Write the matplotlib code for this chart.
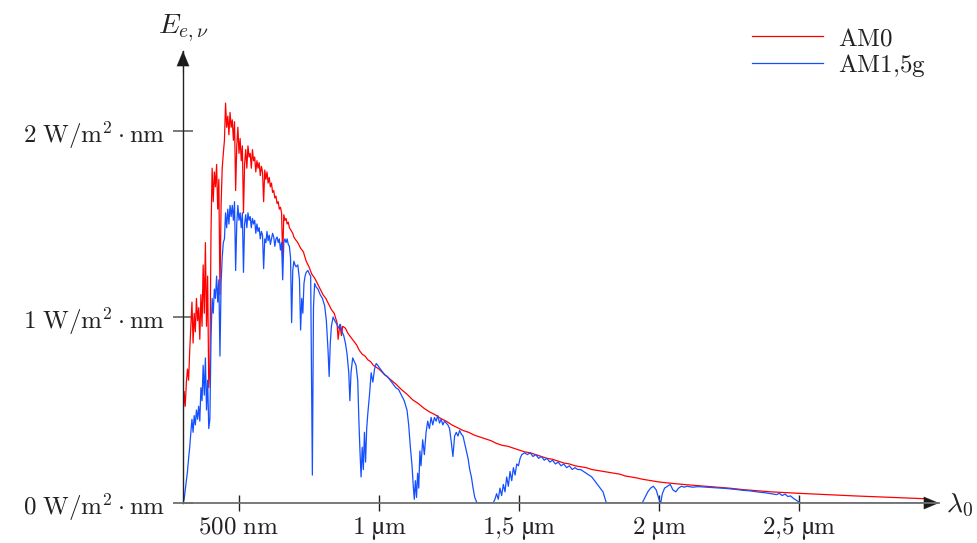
import numpy as np
import matplotlib
matplotlib.use("Agg")
import matplotlib.pyplot as plt

plt.rcParams['mathtext.fontset'] = 'cm'
plt.rcParams['font.family'] = ['STIXGeneral', 'DejaVu Serif']

# ---------------- data (wavelength in nm, irradiance in W/(m^2 nm)) ----------------
am0_wl = [300, 304, 308, 312, 316, 320, 324, 328, 332, 336, 340, 344, 348, 352, 356, 360, 364, 368, 372, 376,
          380, 384, 388, 392, 396, 400, 404, 408, 412, 416, 420, 424, 428, 432, 436, 440, 444, 448, 452, 456,
          460, 464, 468, 472, 476, 480, 484, 488, 492, 496, 500, 504, 508, 512, 516, 520, 524, 528, 532, 536,
          540, 544, 548, 552, 556, 560, 564, 568, 572, 576, 580, 584, 588, 592, 596, 600, 604, 608, 612, 616,
          620, 624, 628, 632, 636, 640, 644, 648, 652, 656, 660, 664, 668, 672, 676, 680, 684, 688, 692, 696,
          700, 710, 720, 730, 740, 750, 760, 770, 780, 790, 800, 810, 820, 830, 840, 850, 854, 860, 866, 870,
          880, 890, 900, 910, 920, 930, 940, 950, 960, 970, 980, 990, 1000,
          1020, 1040, 1060, 1080, 1100, 1120, 1140, 1160, 1180, 1200, 1220, 1240, 1260, 1280, 1300, 1320, 1340,
          1360, 1380, 1400, 1420, 1440, 1460, 1480, 1500, 1520, 1540, 1560, 1580, 1600, 1620, 1640, 1660, 1680,
          1700, 1720, 1740, 1760, 1780, 1800, 1820, 1840, 1860, 1880, 1900, 1920, 1940, 1960, 1980, 2000,
          2050, 2100, 2150, 2200, 2250, 2300, 2350, 2400, 2450, 2500, 2600, 2700, 2800, 2900, 2950]
am0_val = [0.45, 0.60, 0.52, 0.65, 0.72, 0.66, 0.82, 0.95, 1.08, 0.86, 1.02, 0.92, 1.10, 0.98, 1.05, 0.88, 1.12, 0.95, 1.28, 1.02,
           1.40, 0.95, 1.22, 0.62, 0.72, 1.45, 1.80, 1.62, 1.78, 1.70, 1.82, 1.58, 1.74, 1.12, 1.60, 1.80, 1.88, 1.95, 2.15, 2.02,
           2.08, 1.98, 2.10, 2.02, 2.06, 1.95, 2.05, 1.68, 1.92, 2.02, 1.88, 1.96, 1.84, 1.92, 1.56, 1.82, 1.90, 1.80, 1.92, 1.86,
           1.88, 1.80, 1.90, 1.84, 1.86, 1.78, 1.84, 1.80, 1.83, 1.76, 1.81, 1.78, 1.62, 1.79, 1.74, 1.78, 1.72, 1.75, 1.70, 1.72,
           1.67, 1.68, 1.64, 1.65, 1.61, 1.62, 1.58, 1.59, 1.56, 1.32, 1.55, 1.52, 1.53, 1.50, 1.51, 1.48, 1.47, 1.46, 1.45, 1.43,
           1.42, 1.40, 1.37, 1.35, 1.30, 1.27, 1.23, 1.21, 1.18, 1.15, 1.12, 1.10, 1.07, 1.04, 1.02, 0.97, 0.88, 0.96, 0.90, 0.95,
           0.94, 0.91, 0.89, 0.87, 0.85, 0.82, 0.80, 0.79, 0.77, 0.76, 0.74, 0.73, 0.72,
           0.69, 0.665, 0.64, 0.61, 0.585, 0.555, 0.535, 0.51, 0.49, 0.475, 0.455, 0.44, 0.42, 0.405, 0.39, 0.38, 0.365,
           0.355, 0.345, 0.335, 0.32, 0.31, 0.305, 0.295, 0.285, 0.275, 0.27, 0.26, 0.25, 0.24, 0.235, 0.225, 0.215, 0.21,
           0.20, 0.195, 0.19, 0.18, 0.175, 0.17, 0.165, 0.16, 0.155, 0.145, 0.14, 0.135, 0.128, 0.123, 0.118, 0.113,
           0.105, 0.098, 0.092, 0.086, 0.08, 0.072, 0.066, 0.06, 0.056, 0.052, 0.045, 0.038, 0.032, 0.026, 0.023]

am15_wl = [300, 304, 308, 312, 316, 320, 324, 328, 332, 336, 340, 344, 348, 352, 356, 360, 364, 368, 372, 376,
           380, 384, 388, 392, 396, 400, 404, 408, 412, 416, 420, 424, 428, 432, 436, 440, 444, 448, 452, 456,
           460, 464, 468, 472, 476, 480, 484, 488, 492, 496, 500, 504, 508, 512, 516, 520, 524, 528, 532, 536,
           540, 544, 548, 552, 556, 560, 564, 568, 572, 576, 580, 584, 588, 592, 596, 600, 604, 608, 612, 616,
           620, 624, 628, 632, 636, 640, 644, 648, 652, 656, 660, 664, 668, 672, 676, 680, 684, 688, 692, 696,
           700, 704, 710, 716, 720, 724, 728, 732, 736, 740, 746, 752, 756, 760, 762, 764, 766, 770, 776, 782,
           790, 798, 806, 812, 818, 822, 826, 830, 836, 842, 850, 856, 862, 868, 874, 880, 886, 892, 896, 900,
           906, 912, 918, 924, 928, 932, 936, 940, 944, 948, 952, 956, 960, 966, 972, 978, 984, 990, 996, 1000,
           1010, 1020, 1030, 1040, 1050, 1060, 1070, 1080, 1090, 1100, 1106, 1112, 1118, 1122, 1126, 1130, 1134, 1138,
           1142, 1146, 1150, 1156, 1162, 1168, 1174, 1180, 1186, 1192, 1198, 1204, 1210, 1216, 1222, 1228, 1234, 1240,
           1246, 1252, 1258, 1264, 1270, 1276, 1282, 1288, 1294, 1300, 1306, 1312, 1318, 1324, 1330, 1336, 1342, 1350,
           1400, 1408, 1414, 1420, 1426, 1432, 1438, 1444, 1450, 1456, 1462, 1468, 1474, 1480, 1486, 1492, 1498, 1504,
           1510, 1520, 1530, 1540, 1550, 1560, 1570, 1580, 1590, 1600, 1610, 1620, 1630, 1640, 1650, 1660, 1670, 1680,
           1690, 1700, 1710, 1720, 1730, 1740, 1750, 1760, 1770, 1780, 1790, 1800, 1806, 1812, 1940, 1950, 1960, 1970,
           1980, 1990, 2000, 2006, 2012, 2020, 2030, 2040, 2050, 2060, 2070, 2080, 2090, 2100, 2120, 2140, 2160, 2180,
           2200, 2220, 2240, 2260, 2280, 2300, 2320, 2340, 2360, 2380, 2400, 2420, 2430, 2440, 2450, 2460, 2470, 2480,
           2490, 2500, 2510, 2950]
am15_val = [0.0, 0.02, 0.07, 0.12, 0.17, 0.24, 0.30, 0.38, 0.45, 0.38, 0.47, 0.42, 0.50, 0.45, 0.52, 0.44, 0.62, 0.55, 0.74, 0.58,
            0.78, 0.50, 0.66, 0.40, 0.45, 0.88, 1.10, 1.02, 1.15, 1.10, 1.22, 1.08, 1.20, 0.79, 1.18, 1.32, 1.40, 1.42, 1.56, 1.48,
            1.58, 1.50, 1.60, 1.54, 1.60, 1.52, 1.62, 1.25, 1.50, 1.60, 1.52, 1.56, 1.48, 1.56, 1.24, 1.50, 1.55, 1.48, 1.56, 1.52,
            1.54, 1.48, 1.53, 1.50, 1.52, 1.45, 1.50, 1.46, 1.48, 1.42, 1.46, 1.44, 1.26, 1.42, 1.40, 1.46, 1.41, 1.44, 1.39, 1.42,
            1.45, 1.43, 1.38, 1.42, 1.43, 1.40, 1.42, 1.36, 1.40, 1.20, 1.40, 1.42, 1.40, 1.42, 1.39, 1.38, 1.32, 0.97, 1.25, 1.30,
            1.28, 1.27, 1.28, 1.20, 0.93, 1.10, 1.02, 1.18, 1.22, 1.24, 1.25, 1.23, 1.22, 0.50, 0.15, 0.60, 1.05, 1.18, 1.16, 1.15,
            1.12, 1.10, 1.06, 0.98, 0.82, 0.68, 0.86, 0.95, 1.00, 0.98, 0.96, 0.94, 0.96, 0.92, 0.90, 0.86, 0.80, 0.70, 0.55, 0.70,
            0.78, 0.76, 0.74, 0.66, 0.45, 0.28, 0.14, 0.30, 0.18, 0.38, 0.22, 0.40, 0.48, 0.58, 0.70, 0.65, 0.72, 0.75, 0.74, 0.73,
            0.71, 0.69, 0.68, 0.66, 0.64, 0.62, 0.61, 0.58, 0.55, 0.50, 0.42, 0.30, 0.20, 0.10, 0.02, 0.12, 0.03, 0.16,
            0.08, 0.28, 0.20, 0.34, 0.26, 0.38, 0.44, 0.40, 0.46, 0.42, 0.46, 0.44, 0.47, 0.43, 0.45, 0.42, 0.44, 0.43,
            0.42, 0.40, 0.33, 0.25, 0.36, 0.38, 0.36, 0.39, 0.37, 0.36, 0.32, 0.28, 0.24, 0.18, 0.14, 0.08, 0.03, 0.0,
            0.0, 0.0, 0.02, 0.05, 0.02, 0.08, 0.04, 0.10, 0.06, 0.14, 0.09, 0.17, 0.12, 0.19, 0.15, 0.21, 0.20, 0.24,
            0.26, 0.27, 0.26, 0.27, 0.25, 0.26, 0.24, 0.25, 0.23, 0.24, 0.22, 0.23, 0.21, 0.22, 0.20, 0.21, 0.19, 0.20,
            0.18, 0.19, 0.18, 0.18, 0.17, 0.16, 0.15, 0.14, 0.12, 0.10, 0.08, 0.06, 0.03, 0.0, 0.0, 0.03, 0.06, 0.08,
            0.09, 0.07, 0.02, 0.0, 0.05, 0.08, 0.09, 0.10, 0.07, 0.06, 0.08, 0.09, 0.085, 0.09, 0.085, 0.088, 0.086, 0.084,
            0.082, 0.080, 0.078, 0.075, 0.072, 0.068, 0.066, 0.062, 0.058, 0.055, 0.050, 0.045, 0.052, 0.040, 0.048, 0.035, 0.038, 0.025,
            0.015, 0.005, 0.0, 0.0]

x_ticks = [500, 1000, 1500, 2000, 2500]
x_labels = [r'$500\ \mathrm{nm}$', r'$1\ $µ$\mathrm{m}$', r'$1{,}5\ $µ$\mathrm{m}$',
            r'$2\ $µ$\mathrm{m}$', r'$2{,}5\ $µ$\mathrm{m}$']
y_ticks = [0, 1, 2]
y_labels = [r'$%d\ \mathrm{W/m^2}\cdot\mathrm{nm}$' % v for v in y_ticks]
series_labels = [r'$\mathrm{AM0}$', r'$\mathrm{AM1{,}5g}$']

# ---------------- figure ----------------
W, H = 978, 543
fig = plt.figure(figsize=(W / 100, H / 100), dpi=100)
x0, y0, x1, y1 = 183, 503, 939, 51
ax = fig.add_axes([x0 / W, (H - y0) / H, (x1 - x0) / W, (y0 - y1) / H])
ax.set_xlim(300, 3000)
ax.set_ylim(0, (y0 - y1) / 186.0)

ax.plot(am0_wl, am0_val, color='#ff0000', lw=0.9, label=series_labels[0])
ax.plot(am15_wl, am15_val, color='#1450ff', lw=0.9, label=series_labels[1])

for s in ['top', 'right']:
    ax.spines[s].set_visible(False)
ax.spines['bottom'].set_color('#707070')
ax.spines['bottom'].set_linewidth(1.3)
ax.spines['left'].set_color('#222222')
ax.spines['left'].set_linewidth(1.0)
ax.spines['bottom'].set_zorder(5)
ax.spines['left'].set_zorder(5)

ax.set_xticks(x_ticks)
ax.set_xticklabels(x_labels)
ax.set_yticks(y_ticks)
ax.set_yticklabels(y_labels)
ax.tick_params(axis='x', direction='inout', length=12, width=1.0, color='#222222', pad=3, labelsize=18, labelcolor='#222222')
ax.tick_params(axis='y', direction='inout', length=14, width=1.3, color='#707070', pad=6, labelsize=18, labelcolor='#222222')

# arrowheads
arrow_style = '-|>,head_length=0.6,head_width=0.25'
ax.annotate('', xy=(1, 0), xytext=(0.97, 0), xycoords='axes fraction',
            arrowprops=dict(arrowstyle=arrow_style, mutation_scale=18, color='#1a1a1a', lw=0.1,
                            shrinkA=0, shrinkB=0), annotation_clip=False)
ax.annotate('', xy=(0, 1), xytext=(0, 0.95), xycoords='axes fraction',
            arrowprops=dict(arrowstyle=arrow_style, mutation_scale=18, color='#1a1a1a', lw=0.1,
                            shrinkA=0, shrinkB=0), annotation_clip=False)

# axis labels
fig.text(x0 / W, 1 - 28 / H, r'$E_{e,\nu}$', ha='center', va='center', fontsize=20, color='#222222')
fig.text(960 / W, 1 - 505 / H, r'$\lambda_0$', ha='center', va='center', fontsize=20, color='#222222')

leg = ax.legend(loc='upper left', bbox_to_anchor=(752 / W, 1 - 27 / H), bbox_transform=fig.transFigure,
                frameon=False, fontsize=18, handlelength=2.85, handletextpad=0.6, borderpad=0,
                borderaxespad=0, labelspacing=0.02)
for t in leg.get_texts():
    t.set_color('#222222')

fig.savefig('out.png', dpi=100)
